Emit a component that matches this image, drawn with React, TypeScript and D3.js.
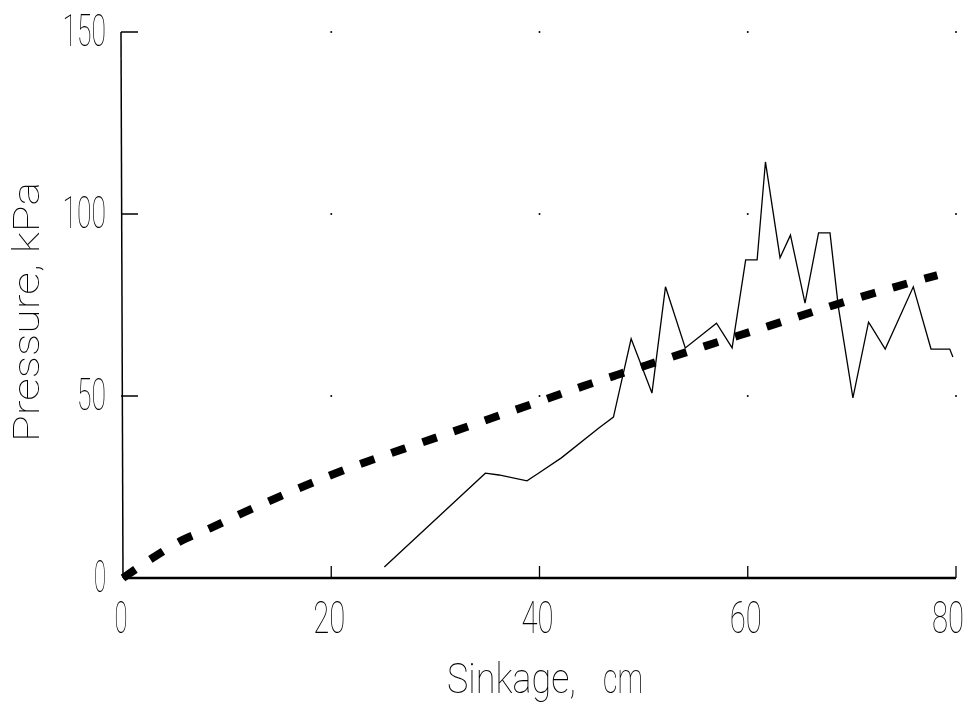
import React from "react";
import * as d3 from "d3";

// Axis ticks
const xTicks = [0, 20, 40, 60, 80];
const yTicks = [0, 50, 100, 150];
const gridX = [20, 40, 60, 80];
const gridY = [50, 100, 150];

// Measured pressure (thin solid line): sinkage (cm), pressure (kPa)
const measuredX = [25.1, 34.8, 36.1, 38.8, 39.9, 42.1, 45.7, 47.1, 48.8, 50.8, 52.1, 54.0, 57.0, 58.5, 59.8, 60.9, 61.7, 63.1, 64.1, 65.5, 66.8, 67.9, 68.7, 70.1, 71.6, 73.2, 75.9, 77.6, 79.4, 79.7];
const measuredY = [3.0, 28.8, 28.3, 26.7, 28.8, 33.0, 41.2, 44.2, 65.7, 50.8, 80.0, 63.2, 70.0, 63.2, 87.4, 87.4, 114.3, 88.0, 94.2, 75.5, 94.8, 94.8, 74.5, 49.5, 70.3, 62.9, 80.0, 62.9, 62.9, 60.7];

// Predicted pressure (thick dashed curve)
const predictedX = [0, 3, 5.7, 8.4, 11.3, 20, 30, 40, 44, 49.8, 55.9, 62, 68.1, 74.2, 78.2];
const predictedY = [0, 5.8, 10.4, 13.7, 17.6, 28.3, 38.5, 48.5, 52.5, 58, 63.7, 69.2, 74.8, 80, 83.2];

const W = 979;
const H = 708;

export default function App() {
  const x = d3.scaleLinear().domain([0, 80]).range([123, 956]);
  const y = d3.scaleLinear().domain([0, 150]).range([578, 32]);

  const measured = measuredX.map((v, i) => [v, measuredY[i]] as [number, number]);
  const predicted = predictedX.map((v, i) => [v, predictedY[i]] as [number, number]);

  const lineM = d3
    .line<[number, number]>()
    .x((d) => x(d[0]))
    .y((d) => y(d[1]));
  const lineP = d3
    .line<[number, number]>()
    .x((d) => x(d[0]))
    .y((d) => y(d[1]))
    .curve(d3.curveMonotoneX);

  const font = "Roboto, 'DejaVu Sans', sans-serif";
  const fw = 100;

  return (
    <svg
      width={W}
      height={H}
      style={{ position: "absolute", left: 0, top: 0, background: "#fff" }}
    >
      {/* grid dots */}
      {gridX.map((gx) =>
        gridY.map((gy) => (
          <circle key={`${gx}-${gy}`} cx={x(gx)} cy={y(gy)} r={1} fill="#000" />
        ))
      )}

      {/* axes */}
      <line x1={x(0)} y1={y(0)} x2={x(80)} y2={y(0)} stroke="#000" strokeWidth={2.6} />
      <line x1={x(0) - 2} y1={y(150)} x2={x(0)} y2={y(0)} stroke="#000" strokeWidth={1.5} />
      {gridY.map((t) => (
        <line key={t} x1={x(0) - 2} y1={y(t)} x2={x(0) + 15} y2={y(t)} stroke="#000" strokeWidth={1.5} />
      ))}
      {gridX.map((t) => (
        <line key={t} x1={x(t)} y1={y(0)} x2={x(t)} y2={y(0) - 12} stroke="#000" strokeWidth={1.3} />
      ))}

      <g style={{ opacity: 0.999, willChange: "transform" }}>
        {/* y tick labels */}
        {yTicks.map((t) => {
          const s = String(t);
          const w = s.length === 1 ? 12 : s.length * 14.5;
          return (
            <text
              key={t}
              x={106 - w}
              y={y(t) + 14}
              fontFamily={font}
              fontWeight={fw}
              fontSize={44}
              textLength={w}
              lengthAdjust="spacingAndGlyphs"
              fill="#000"
            >
              {s}
            </text>
          );
        })}

        {/* x tick labels */}
        {xTicks.map((t) => {
          const s = String(t);
          const w = s.length === 1 ? 13 : 2 * 16;
          const cx = t === 80 ? x(t) - 8 : x(t) - 2;
          return (
            <text
              key={t}
              x={cx - w / 2}
              y={633}
              fontFamily={font}
              fontWeight={fw}
              fontSize={44}
              textLength={w}
              lengthAdjust="spacingAndGlyphs"
              fill="#000"
            >
              {s}
            </text>
          );
        })}

        {/* axis titles */}
        <text
          x={447}
          y={693}
          fontFamily={font}
          fontWeight={fw}
          fontSize={43}
          textLength={129}
          lengthAdjust="spacingAndGlyphs"
          fill="#000"
        >
          Sinkage,
        </text>
        <text
          x={603}
          y={693}
          fontFamily={font}
          fontWeight={fw}
          fontSize={43}
          textLength={40}
          lengthAdjust="spacingAndGlyphs"
          fill="#000"
        >
          cm
        </text>
        <text
          transform="translate(39,442) rotate(-90)"
          x={0}
          y={0}
          fontFamily={font}
          fontWeight={fw}
          fontSize={36}
          textLength={260}
          lengthAdjust="spacingAndGlyphs"
          fill="#000"
        >
          Pressure, kPa
        </text>
      </g>

      {/* predicted dashed curve */}
      <path
        d={lineP(predicted) || ""}
        fill="none"
        stroke="#000"
        strokeWidth={8}
        strokeDasharray="15 18"
        strokeLinecap="butt"
      />

      {/* measured line */}
      <path d={lineM(measured) || ""} fill="none" stroke="#000" strokeWidth={1.3} strokeLinejoin="miter" />
    </svg>
  );
}
